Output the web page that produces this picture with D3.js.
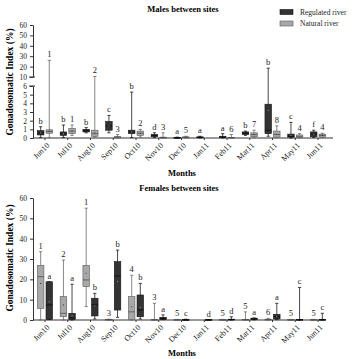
<!DOCTYPE html>
<html>
<head>
<meta charset="utf-8">
<script src="https://cdn.jsdelivr.net/npm/d3@7"></script>
<style>
  body { margin: 0; background: #fff; }
  svg { font-family: "Liberation Serif", "DejaVu Serif", serif; }
</style>
</head>
<body>
<div id="chart"></div>
<script>
const months = ["Jun10", "Jul10", "Aug10", "Sep10", "Oct10", "Nov10", "Dec10",
                "Jan11", "Feb11", "Mar11", "Apr11", "May11", "Jun11"];

// each box: [min, q1, median, q3, max, mean]
const maleRegulated = [
  [0.05, 0.35, 0.6, 0.85, 1.3, 0.6], [0.05, 0.3, 0.5, 0.7, 1.5, 0.5], [0.6, 0.7, 0.85, 1.0, 1.2, 0.85],
  [0.6, 0.9, 1.4, 1.9, 2.6, 1.4], [0.05, 0.5, 0.7, 0.9, 5.3, 0.7], [0.05, 0.15, 0.3, 0.4, 0.6, 0.3],
  [0, 0.02, 0.04, 0.06, 0.1, 0.04], [0, 0.05, 0.1, 0.12, 0.2, 0.1], [0, 0.05, 0.1, 0.2, 0.5, 0.1],
  [0.3, 0.4, 0.55, 0.7, 0.8, 0.55], [0.2, 0.5, 0.9, 3.9, 18.5, 3.2], [0, 0.1, 0.2, 0.45, 1.8, 0.3],
  [0.05, 0.15, 0.45, 0.7, 0.9, 0.45]
];
const maleNatural = [
  [0.05, 0.55, 0.75, 0.95, 26, 0.8], [0.3, 0.5, 0.8, 1.1, 1.5, 0.8], [0.1, 0.2, 0.5, 0.9, 10.5, 0.6],
  [0, 0.02, 0.1, 0.15, 0.4, 0.1], [0.1, 0.3, 0.55, 0.8, 1.0, 0.55], [0, 0.02, 0.05, 0.1, 0.6, 0.07],
  [0, 0.05, 0.1, 0.12, 0.2, 0.1], null, [0, 0.03, 0.05, 0.08, 0.4, 0.06],
  [0.05, 0.15, 0.4, 0.6, 0.9, 0.4], [0.05, 0.1, 0.4, 0.8, 1.4, 0.45], [0, 0.05, 0.15, 0.35, 0.5, 0.2],
  [0.05, 0.1, 0.3, 0.45, 0.55, 0.3]
];
const maleRegLabels = ["b", "b", "b", "c", "b", "d", "a", "a", "a", "b", "b", "c", "f"];
const maleNatLabels = ["1", "1", "2", "3", "2", "3", "5", "", "6", "7", "8", "4", "4"];

const femaleNatural = [
  [0, 5.7, 21.3, 26.9, 33.6, 18], [0, 1.6, 3.3, 11.5, 29.5, 7.4], [6.6, 16.4, 19.7, 26.9, 55, 23],
  [0, 0.1, 0.2, 0.3, 0.4, 0.2], [0, 0.2, 4, 11.5, 22, 6.5], [0, 0, 0.1, 0.3, 8.2, 0.3],
  [0, 0.05, 0.1, 0.2, 0.3, 0.1], null, [0, 0.05, 0.1, 0.15, 0.3, 0.1],
  [0, 0.1, 0.2, 0.3, 4, 0.3], [0, 0.1, 0.2, 0.4, 0.8, 0.2], [0, 0.05, 0.1, 0.2, 0.3, 0.1],
  [0, 0.05, 0.1, 0.2, 0.3, 0.1]
];
const femaleRegulated = [
  [0.3, 0.3, 7.4, 18.8, 18.8, 9], [0, 0.2, 1, 3.3, 17.6, 2], [0.5, 2, 7.4, 10.7, 13.1, 7],
  [1.3, 4.9, 21.6, 28.7, 34.4, 18.9], [0.5, 1.6, 4.9, 12.3, 18, 6.3], [0.2, 0.2, 0.8, 1.3, 2.5, 0.8],
  [0, 0.05, 0.1, 0.2, 0.4, 0.1], [0, 0.05, 0.1, 0.15, 0.2, 0.1], [0, 0.1, 0.2, 0.4, 1.6, 0.3],
  [0.1, 0.2, 0.5, 0.9, 1.0, 0.5], [0.2, 0.5, 1.7, 2.8, 8.2, 1.8], [0, 0.05, 0.1, 0.3, 16, 0.5],
  [0, 0.1, 0.2, 0.3, 3.3, 0.3]
];
const femaleNatLabels = ["1", "2", "1", "3", "4", "3", "5", "", "5", "5", "6", "5", "5"];
const femaleRegLabels = ["a", "a", "b", "b", "b", "a", "c", "d", "d", "a", "a", "c", "c"];

const maleLowTicks = [0, 1, 2, 3, 4, 5, 6];
const maleHighTicks = [10, 20, 30, 40, 50, 60];
const femaleTicks = [0, 10, 20, 30, 40, 50, 60];

const W = 356, H = 359;
const dark = { fill: "#333", stroke: "#111", line: "#1a1a1a", med: "#000", dot: "#999" };
const gray = { fill: "#a8a8a8", stroke: "#5a5a5a", line: "#6a6a6a", med: "#444", dot: "#333" };

const svg = d3.select("#chart").append("svg")
  .attr("width", W).attr("height", H)
  .attr("viewBox", [0, 0, W, H]);

const x = d3.scaleBand().domain(months).range([33.6, 329.4]);
const boxW = 6.5;
const cxOf = (i, offset) => x(months[i]) + x.bandwidth() / 2 + offset;

function drawBoxes(g, y, data, style, offset) {
  data.forEach((d, i) => {
    if (!d) return;
    const cx = cxOf(i, offset);
    const [mn, q1, md, q3, mx, mean] = d;
    const b = g.append("g");
    b.append("line").attr("x1", cx).attr("x2", cx).attr("y1", y(mx)).attr("y2", y(mn))
      .attr("stroke", style.line).attr("stroke-width", 0.8);
    [mn, mx].forEach(v => b.append("line")
      .attr("x1", cx - 1.6).attr("x2", cx + 1.6).attr("y1", y(v)).attr("y2", y(v))
      .attr("stroke", style.line).attr("stroke-width", 0.8));
    b.append("rect").attr("x", cx - boxW / 2).attr("width", boxW)
      .attr("y", y(q3)).attr("height", Math.max(0.8, y(q1) - y(q3)))
      .attr("fill", style.fill).attr("stroke", style.stroke).attr("stroke-width", 0.6);
    b.append("line").attr("x1", cx - boxW / 2).attr("x2", cx + boxW / 2)
      .attr("y1", y(md)).attr("y2", y(md)).attr("stroke", style.med).attr("stroke-width", 0.7);
    if (y(q1) - y(q3) > 3)
      b.append("circle").attr("cx", cx).attr("cy", y(mean)).attr("r", 0.6).attr("fill", style.dot);
  });
}

function drawLabels(g, y, data, labels, offset) {
  const items = labels.map((l, i) => ({ l, i })).filter(o => o.l && data[o.i]);
  g.selectAll(null).data(items).join("text")
    .attr("x", o => cxOf(o.i, offset))
    .attr("y", o => y(data[o.i][4]) - 3)
    .attr("text-anchor", "middle")
    .attr("font-size", 8.5)
    .attr("fill", "#222")
    .text(o => o.l);
}

function xAxis(g, baseY, axisEnd) {
  g.attr("transform", `translate(0,${baseY})`)
    .attr("font-family", null)
    .call(d3.axisBottom(x).tickSize(2).tickSizeOuter(0));
  g.attr("font-family", "Liberation Serif");
  g.select(".domain").attr("d", `M33,0H${axisEnd}`).attr("stroke", "#333");
  g.selectAll(".tick line").attr("stroke", "#333");
  g.selectAll(".tick text")
    .attr("font-size", 8).attr("fill", "#222")
    .attr("x", 0).attr("y", 0).attr("dy", "0.35em")
    .attr("text-anchor", "end")
    .attr("transform", "translate(3,6) rotate(-45)");
}

function styleY(g) {
  g.attr("font-family", "Liberation Serif");
  g.selectAll(".tick text").attr("font-size", 7.5).attr("fill", "#222");
  g.selectAll(".tick line").attr("stroke", "#333");
  g.select(".domain").attr("stroke", "#333");
}

function yTitle(cy) {
  svg.append("text")
    .attr("transform", `translate(13,${cy}) rotate(-90)`)
    .attr("text-anchor", "middle")
    .attr("font-weight", "bold").attr("font-size", 9.5)
    .text("Gonadosomatic Index (%)");
}

// ---------- Males (broken axis) ----------
const yLow = d3.scaleLinear().domain([0, 6]).range([138, 86]);
const yHigh = d3.scaleLinear().domain([10, 60]).range([77, 25]);
const yMale = d3.scaleLinear().domain([0, 6, 10, 60]).range([138, 86, 77, 25]);
const fmt = d3.format("d");

const m = svg.append("g");
m.append("g").attr("transform", "translate(33,0)")
  .call(d3.axisLeft(yLow).tickValues(maleLowTicks).tickFormat(fmt).tickSize(3).tickSizeOuter(0)).call(styleY);
m.append("g").attr("transform", "translate(33,0)")
  .call(d3.axisLeft(yHigh).tickValues(maleHighTicks).tickFormat(fmt).tickSize(3).tickSizeOuter(0)).call(styleY);
// break marks
[yHigh(10), yLow(6)].forEach(v => m.append("line")
  .attr("x1", 29).attr("x2", 35).attr("y1", v).attr("y2", v).attr("stroke", "#333"));

m.append("g").call(xAxis, 138, 333);
drawBoxes(m, yMale, maleRegulated, dark, -4.3);
drawBoxes(m, yMale, maleNatural, gray, 4.3);
drawLabels(m, yMale, maleRegulated, maleRegLabels, -4.3);
drawLabels(m, yMale, maleNatural, maleNatLabels, 4.3);

svg.append("text").attr("x", 183).attr("y", 12).attr("text-anchor", "middle")
  .attr("font-weight", "bold").attr("font-size", 8.5).text("Males between sites");
svg.append("text").attr("x", 182).attr("y", 176).attr("text-anchor", "middle")
  .attr("font-weight", "bold").attr("font-size", 8.5).text("Months");
yTitle(82);

// legend
const legend = [["Regulated river", dark], ["Natural river", gray]];
legend.forEach(([name, s], i) => {
  svg.append("rect").attr("x", 280).attr("y", 9.5 + i * 11.5).attr("width", 13).attr("height", 5)
    .attr("fill", s.fill).attr("stroke", s.stroke).attr("stroke-width", 0.6);
  svg.append("text").attr("x", 300).attr("y", 14.8 + i * 11.5)
    .attr("font-size", 7.5).attr("fill", "#222").text(name);
});

// ---------- Females ----------
const yFem = d3.scaleLinear().domain([0, 60]).range([320, 198]);
const f = svg.append("g");
f.append("g").attr("transform", "translate(33,0)")
  .call(d3.axisLeft(yFem).tickValues(femaleTicks).tickFormat(fmt).tickSize(3).tickSizeOuter(0)).call(styleY);
f.append("g").call(xAxis, 320, 326);
drawBoxes(f, yFem, femaleNatural, gray, -4.3);
drawBoxes(f, yFem, femaleRegulated, dark, 4.3);
drawLabels(f, yFem, femaleNatural, femaleNatLabels, -4.3);
drawLabels(f, yFem, femaleRegulated, femaleRegLabels, 4.3);

svg.append("text").attr("x", 179).attr("y", 191).attr("text-anchor", "middle")
  .attr("font-weight", "bold").attr("font-size", 8.5).text("Females between sites");
svg.append("text").attr("x", 182).attr("y", 356).attr("text-anchor", "middle")
  .attr("font-weight", "bold").attr("font-size", 8.5).text("Months");
yTitle(258);
</script>
</body>
</html>
